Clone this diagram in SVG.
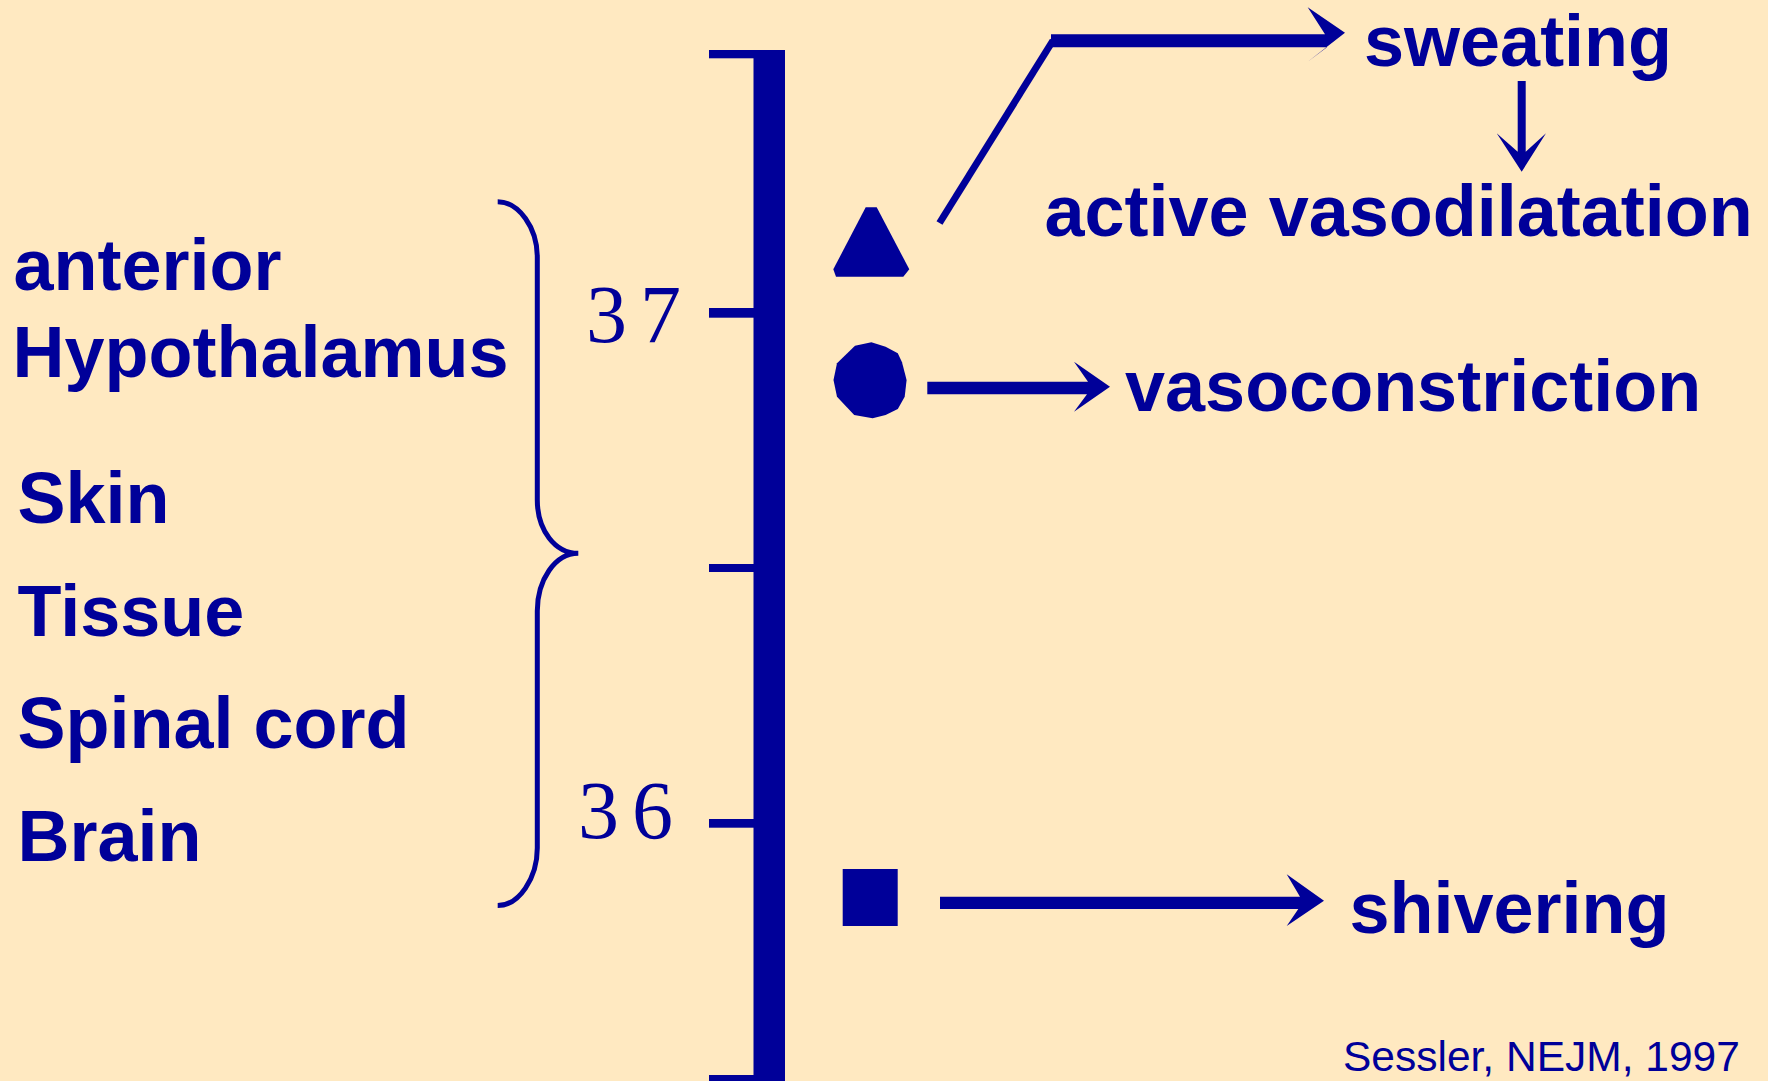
<svg xmlns="http://www.w3.org/2000/svg" width="1768" height="1081" viewBox="0 0 1768 1081">
<style>
.bg{fill:#FFE9C1}
.ink{fill:#000099}
.lbl{font-family:"Liberation Sans",Arial,sans-serif;font-weight:bold;font-size:72px;fill:#000099}
.num{font-family:"Liberation Serif","Times New Roman",serif;font-size:82px;fill:#000099;letter-spacing:13px}
.cite{font-family:"Liberation Sans",Arial,sans-serif;font-size:42.5px;fill:#000099}
.brace{fill:none;stroke:#000099;stroke-width:5}
.line{fill:none;stroke:#000099;stroke-width:7}
</style>
<rect class="bg" x="0" y="0" width="1768" height="1081"/>

<g id="sites">
<text class="lbl" x="13.5" y="290">anterior</text>
<text class="lbl" x="12.5" y="376.7">Hypothalamus</text>
<text class="lbl" x="17.5" y="523.3">Skin</text>
<text class="lbl" x="17.5" y="635.7">Tissue</text>
<text class="lbl" x="17.5" y="748.3">Spinal cord</text>
<text class="lbl" x="17.4" y="860.7">Brain</text>
</g>

<g id="brace">
<path class="brace" d="M497.7,201.7 C519,201.7 537.3,228 537.3,257 V500 C537.3,530 555,553.3 578.3,553.3 C555,553.3 537.3,580 537.3,611 V848 C537.3,878 519,905.6 497.7,905.6"/>
</g>

<g id="scale">
<rect class="ink" x="753.5" y="50" width="31.5" height="1031"/>
<rect class="ink" x="709" y="50" width="45" height="8.3"/>
<rect class="ink" x="709" y="308" width="45" height="9.7"/>
<rect class="ink" x="709" y="564" width="45" height="8"/>
<rect class="ink" x="709" y="819" width="45" height="8.7"/>
<rect class="ink" x="709" y="1075" width="45" height="8"/>
<text class="num" x="586" y="341.7">37</text>
<text class="num" x="578" y="837.8">36</text>
</g>

<g id="triangle">
<polygon class="ink" points="865.7,207.3 876.7,207.3 909.3,269.3 903.3,276.7 836,276.7 833.3,269.3"/>
</g>
<g id="circle">
<polygon class="ink" points="871.4,342.3 885.6,346.7 897.8,353.3 902,362.3 906.6,380 904.7,396.7 897.8,409 885.6,415 872.6,418.3 854.2,415 837,396.7 833.5,380 837,363.3 855,345.7"/>
</g>
<g id="square">
<rect class="ink" x="842.7" y="869" width="55" height="57"/>
</g>

<g id="sweating"><text class="lbl" x="1364" y="65.7">sweating</text></g>
<g id="active-vasodilatation"><text class="lbl" x="1044.5" y="235.7">active vasodilatation</text></g>
<g id="vasoconstriction"><text class="lbl" x="1125" y="410.7">vasoconstriction</text></g>
<g id="shivering"><text class="lbl" x="1349.4" y="932.7">shivering</text></g>
<g id="citation"><text class="cite" x="1343" y="1071">Sessler, NEJM, 1997</text></g>

<g id="connectors">
<line class="line" x1="939.5" y1="223" x2="1053" y2="40.5"/>
<path class="ink" d="M1051,34.3 H1325 L1307.7,7.3 L1345,32.7 L1307.7,61.7 L1327,47.3 H1051 Z"/>
<path class="ink" d="M1517.7,81 H1525.7 V151.7 L1546,133.3 L1521.7,171.7 L1496.7,133.3 L1517.7,151.7 Z"/>
<path class="ink" d="M927.3,381.7 H1088 L1074,361.7 L1110,386.7 L1074,411.7 L1087,394.3 H927.3 Z"/>
<path class="ink" d="M940,896.7 H1300 L1286.7,874.3 L1324,900.7 L1286.7,926 L1298.3,909 H940 Z"/>
</g>
</svg>
